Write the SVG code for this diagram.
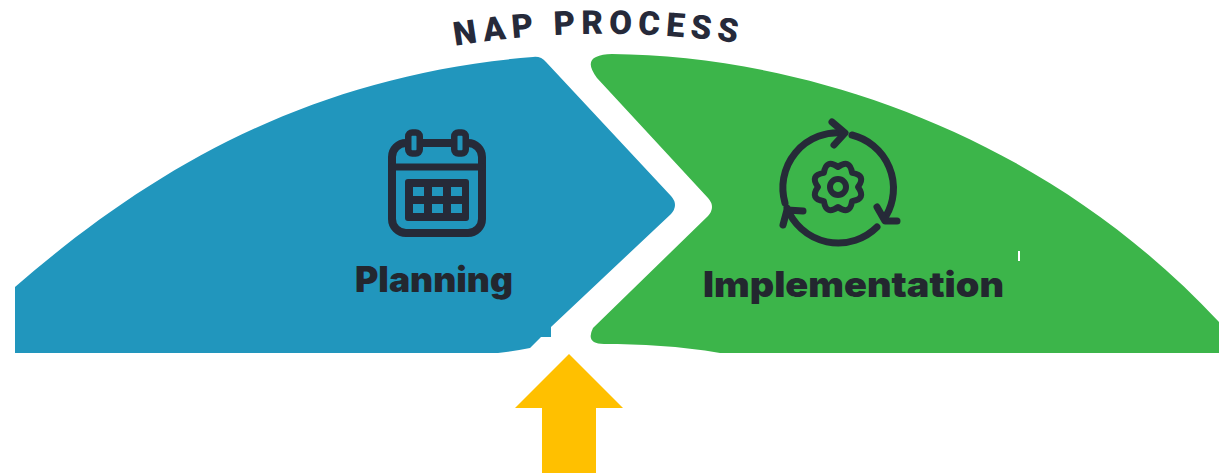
<svg xmlns="http://www.w3.org/2000/svg" width="1219" height="474" viewBox="0 0 1219 474">
<style>
.ink{fill:none;stroke:#262a38;stroke-linecap:round;stroke-linejoin:round}
.lbl{font-family:"Inter","Liberation Sans",sans-serif;font-weight:900;fill:#23272f}
</style>
<defs>
<path id="arc" d="M455 46 Q600 22 750 45"/>
</defs>
<rect width="1219" height="474" fill="#fff"/>
<g id="title"><text font-family="Roboto,'Liberation Sans',sans-serif" font-weight="900" font-size="33" letter-spacing="6" fill="#262a3a"><textPath href="#arc">NAP PROCESS</textPath></text></g>
<g id="planning">
<path fill="#2196bd" d="M15 287 C150 170 310 75 533 57 Q541 56 546 62 L671 196 Q679 205 671 214 L551 327 V337 H541 L530 348 Q515 351 498 353 H15 Z"/>
<g stroke-width="8" class="ink">
<rect x="392" y="143" width="90" height="90" rx="14"/>
<path d="M392 167 H482" stroke-width="7"/>
<rect x="408.250" y="132.500" width="11.500" height="21" rx="4" fill="#2196bd" stroke-width="6.500"/>
<rect x="454.250" y="132.500" width="11.500" height="21" rx="4" fill="#2196bd" stroke-width="6.500"/>
</g>
<path fill="#262a38" fill-rule="evenodd" d="M408 179 H466 Q469 179 469 182 V218 Q469 221 466 221 H408 Q405 221 405 218 V182 Q405 179 408 179Z M413 187V196H424V187Z M432 187V196H443V187Z M451 187V196H462V187Z M413 204V213H424V204Z M432 204V213H443V204Z M451 204V213H462V204Z"/>
<text class="lbl" x="355" y="292" font-size="35" textLength="158" lengthAdjust="spacingAndGlyphs">Planning</text>
</g>
<g id="implementation">
<path fill="#3cb54a" d="M612 54 C800 56 1040 130 1219 322 V353 H720 C680 346 640 344 604 344 Q585 344 593 328 L708 216 Q716 207 708 198 L597 78 Q585 62 596 57 Q602 54 612 54 Z"/>
<g class="ink" stroke-width="7">
<path d="M785 203 A55 55 0 0 1 843 133"/>
<path d="M832 122 L845 133 L834 145"/>
<path d="M852 135 A55 55 0 0 1 886 216"/>
<path d="M877 207 L885 221 L897 221"/>
<path d="M877 227 A55 55 0 0 1 787 208"/>
<path d="M783 225 L787 210 L803 211"/>
<circle cx="838" cy="187" r="8" stroke-width="6"/>
<path stroke-width="6" d="M858 187 Q866.600 198.900 852.100 201.100 Q849.900 215.600 838 207 Q826.100 215.600 823.900 201.100 Q809.400 198.900 818 187 Q809.400 175.100 823.900 172.900 Q826.100 158.400 838 167 Q849.900 158.400 852.100 172.900 Q866.600 175.100 858 187Z"/>
</g>
<rect x="1018" y="251" width="2" height="10" fill="#fff"/>
<text class="lbl" x="703" y="297" font-size="35" textLength="301" lengthAdjust="spacingAndGlyphs">Implementation</text>
</g>
<g id="connectors">
<path id="arrow" fill="#ffc000" d="M569 354 L623 408 H596 V473 H542 V408 H515 Z"/>
</g>
</svg>
